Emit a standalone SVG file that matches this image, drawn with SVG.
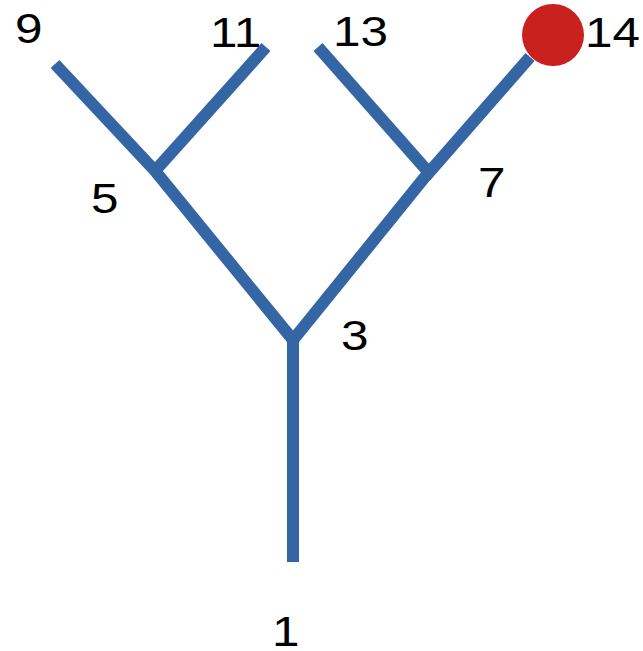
<svg xmlns="http://www.w3.org/2000/svg" width="643" height="651" viewBox="0 0 643 651">
<style>
.e{stroke:#3465a4;stroke-width:12;fill:none;stroke-linecap:butt}
.t{font-family:"Liberation Sans",Arial,sans-serif;font-size:43px;fill:#000}
</style>
<rect width="643" height="651" fill="#fff"/>
<g id="connectors">
<line class="e" x1="293" y1="562" x2="293" y2="340"/>
<polyline class="e" points="293,343 293,340 156,172"/>
<polyline class="e" points="293,340 429,172"/>
<line class="e" x1="158" y1="174" x2="55" y2="64"/>
<line class="e" x1="154" y1="172" x2="266" y2="47"/>
<line class="e" x1="431" y1="175" x2="318" y2="47"/>
<line class="e" x1="426" y1="176" x2="530" y2="57"/>
</g>
<g id="n1"><text class="t" transform="translate(272,646) scale(1.15,1)">1</text></g>
<g id="n3"><text class="t" transform="translate(341,350) scale(1.15,1)">3</text></g>
<g id="n5"><text class="t" transform="translate(91,213) scale(1.15,1)">5</text></g>
<g id="n7"><text class="t" transform="translate(478,197) scale(1.15,1)">7</text></g>
<g id="n9"><text class="t" transform="translate(15,43) scale(1.15,1)">9</text></g>
<g id="n11"><text class="t" transform="translate(210,47) scale(1.15,1)">11</text></g>
<g id="n13"><text class="t" transform="translate(333,46) scale(1.15,1)">13</text></g>
<g id="n14"><circle cx="553" cy="35" r="31" fill="#c9211e"/><text class="t" transform="translate(585,47) scale(1.15,1)">14</text></g>
</svg>
